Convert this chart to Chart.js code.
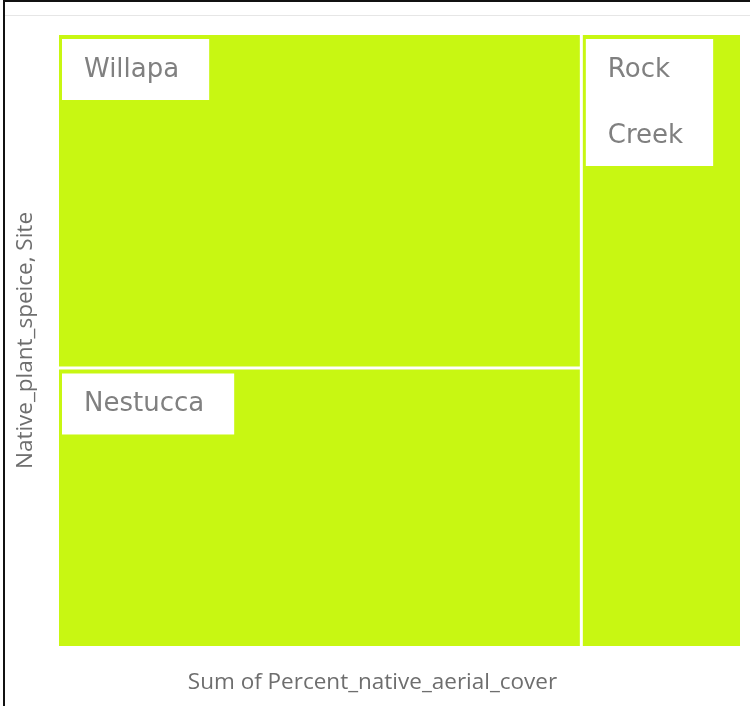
<!DOCTYPE html>
<html>
<head>
<meta charset="utf-8">
<script src="https://cdn.jsdelivr.net/npm/chart.js@4.4.1/dist/chart.umd.min.js"></script>
<style>
  html, body { margin: 0; padding: 0; background: #ffffff; }
  #wrap { position: relative; width: 750px; height: 706px; overflow: hidden; }
  #c { position: absolute; left: 0; top: 0; }
  .bl { position: absolute; left: 3px; top: 0; width: 2px; height: 706px; background: #111; }
  .bt { position: absolute; left: 3px; top: 0; width: 747px; height: 2px; background: #111; }
  .gl { position: absolute; left: 5px; top: 15px; width: 745px; height: 1px; background: #e6e6e6; }
</style>
</head>
<body>
<div id="wrap">
  <canvas id="c" width="750" height="706"></canvas>
  <div class="bl"></div><div class="bt"></div><div class="gl"></div>
</div>
<script>
// ---- data ----
const sites = ['Willapa', 'Nestucca', 'Rock Creek'];
const coverValues = [418, 349, 233];
const xAxisTitle = 'Sum of Percent_native_aerial_cover';
const yAxisTitle = 'Native_plant_speice, Site';

const FILL = '#c8f712';
const GAP = 1.5;

function worst(row, side) {
  let s = 0, mx = -Infinity, mn = Infinity;
  row.forEach(r => { s += r.area; mx = Math.max(mx, r.area); mn = Math.min(mn, r.area); });
  const s2 = s * s, w2 = side * side;
  return Math.max(w2 * mx / s2, s2 / (w2 * mn));
}
function squarify(items, x, y, w, h, out) {
  if (!items.length) return out;
  const side = Math.min(w, h);
  let row = [], i = 0;
  while (i < items.length) {
    const test = row.concat([items[i]]);
    if (row.length === 0 || worst(test, side) <= worst(row, side)) { row = test; i++; }
    else break;
  }
  const rowArea = row.reduce((a, r) => a + r.area, 0);
  if (w >= h) {
    const rw = rowArea / h; let cy = y;
    row.forEach(r => { const rh = r.area / rw; out.push({ item: r, x: x, y: cy, w: rw, h: rh }); cy += rh; });
    squarify(items.slice(i), x + rw, y, w - rw, h, out);
  } else {
    const rh = rowArea / w; let cx = x;
    row.forEach(r => { const rw = r.area / rh; out.push({ item: r, x: cx, y: y, w: rw, h: rh }); cx += rw; });
    squarify(items.slice(i), x, y + rh, w, h - rh, out);
  }
  return out;
}

const treemapPlugin = {
  id: 'treemap',
  afterDatasetsDraw(chart) {
    const { ctx, chartArea: ca, scales } = chart;
    const xs = scales.x, ys = scales.y;
    const aspect = (ca.right - ca.left) / (ca.bottom - ca.top);
    const total = coverValues.reduce((a, b) => a + b, 0);
    const items = sites.map((s, i) => ({ label: s, value: coverValues[i], area: coverValues[i] / total * aspect }))
      .sort((a, b) => b.value - a.value);
    const rects = squarify(items, 0, 0, aspect, 1, []);
    ctx.save();
    rects.forEach(r => {
      let x0 = xs.getPixelForValue(r.x / aspect), x1 = xs.getPixelForValue((r.x + r.w) / aspect);
      let y0 = ys.getPixelForValue(r.y), y1 = ys.getPixelForValue(r.y + r.h);
      if (x0 > ca.left + 1) x0 += GAP;
      if (x1 < ca.right - 1) x1 -= GAP;
      if (y0 > ca.top + 1) y0 += GAP;
      if (y1 < ca.bottom - 1) y1 -= GAP;
      ctx.fillStyle = FILL;
      ctx.fillRect(x0, y0, x1 - x0, y1 - y0);

      // label box
      ctx.font = '26px "DejaVu Sans", sans-serif';
      const padL = 22, padR = 30;
      let lines = [r.item.label];
      const full = ctx.measureText(r.item.label).width;
      if (full + padL + padR + 10 > (x1 - x0)) lines = r.item.label.split(' ');
      const tw = Math.max(...lines.map(l => ctx.measureText(l).width));
      const bx = x0 + 3, by = y0 + 4;
      const bw = tw + padL + padR;
      const bh = 30 + (lines.length - 1) * 66 + 31;
      ctx.fillStyle = '#ffffff';
      ctx.fillRect(bx, by, bw, bh);
      ctx.fillStyle = '#808080';
      ctx.textBaseline = 'middle';
      ctx.textAlign = 'left';
      lines.forEach((l, k) => ctx.fillText(l, bx + padL, by + 31 + k * 66));
    });
    ctx.restore();
  }
};

new Chart(document.getElementById('c'), {
  type: 'scatter',
  data: { datasets: [{ data: [], pointRadius: 0 }] },
  options: {
    responsive: false,
    animation: false,
    layout: { padding: { left: 5, top: 35, right: 10, bottom: 0 } },
    plugins: {
      legend: { display: false },
      tooltip: { enabled: false },
      title: {
        display: true, position: 'bottom', text: xAxisTitle, color: '#6e6e6e',
        font: { family: '"Open Sans", sans-serif', size: 22.5, weight: 'normal', lineHeight: 1.2 },
        padding: { top: 23, bottom: 10 }
      }
    },
    scales: {
      x: {
        type: 'linear', min: 0, max: 1, display: true,
        grid: { display: false, drawTicks: false }, border: { display: false },
        ticks: { display: false },
        title: { display: false },
        afterFit(scale) { scale.height = 0; }
      },
      y: {
        type: 'linear', min: 0, max: 1, reverse: true,
        grid: { display: false, drawTicks: false }, border: { display: false },
        ticks: { display: false },
        title: { display: true, text: yAxisTitle, color: '#6e6e6e',
          font: { family: '"Open Sans", sans-serif', size: 22.5, lineHeight: 1.2 },
          padding: { top: 7, bottom: 20 } }
      }
    }
  },
  plugins: [treemapPlugin]
});
</script>
</body>
</html>
